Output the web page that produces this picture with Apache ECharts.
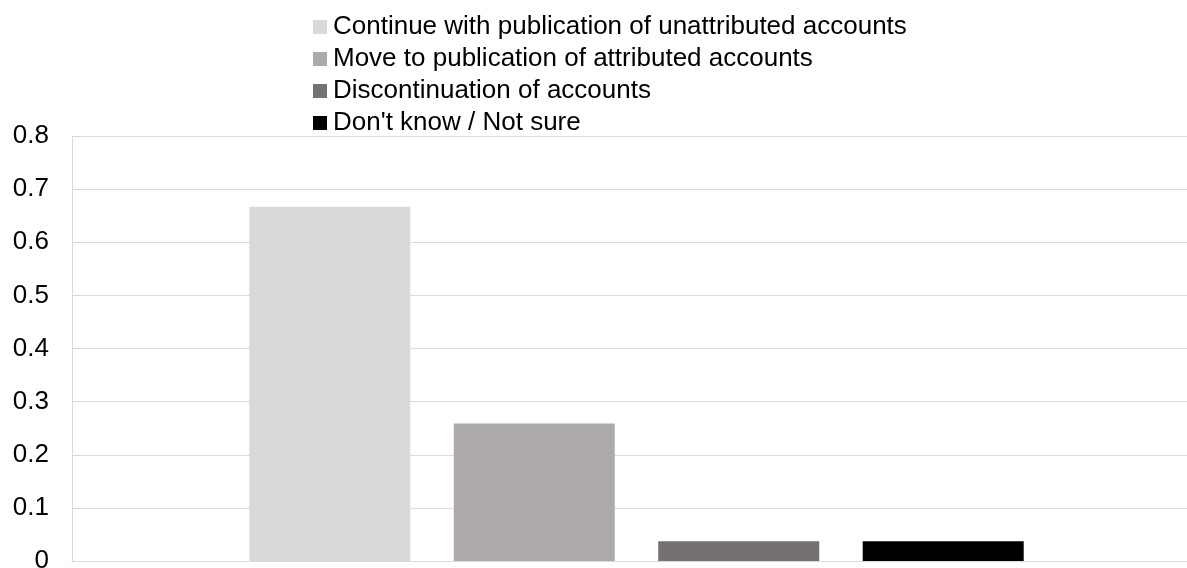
<!DOCTYPE html>
<html>
<head>
<meta charset="utf-8">
<script src="https://cdn.jsdelivr.net/npm/echarts@6/dist/echarts.min.js"></script>
<style>
  html, body { margin: 0; padding: 0; background: #ffffff; }
  #main { width: 1187px; height: 568px; }
</style>
</head>
<body>
<div id="main"></div>
<script>
var categories = [''];
var seriesNames = [
    'Continue with publication of unattributed accounts',
    'Move to publication of attributed accounts',
    'Discontinuation of accounts',
    "Don't know / Not sure"
];
var seriesValues = [
    [0.667],
    [0.259],
    [0.037],
    [0.037]
];
var seriesColors = ['#d9d9d9', '#aeaaaa', '#767171', '#000000'];
var yTicks = { min: 0, max: 0.8, interval: 0.1 };

var myChart = echarts.init(document.getElementById('main'));

var series = seriesNames.map(function (name, i) {
    return {
        name: name,
        type: 'bar',
        data: seriesValues[i],
        barWidth: 161,
        barGap: '27%',
        itemStyle: { color: seriesColors[i] }
    };
});

myChart.setOption({
    backgroundColor: '#ffffff',
    animation: false,
    textStyle: { fontFamily: 'Liberation Sans, Arial, sans-serif' },
    legend: {
        orient: 'vertical',
        left: 313,
        top: 14,
        padding: 0,
        itemWidth: 14,
        itemHeight: 14,
        itemGap: 6,
        icon: 'rect',
        textStyle: { fontSize: 26, color: '#000000', lineHeight: 26, padding: [0, 0, 0, 1] },
        data: seriesNames
    },
    grid: {
        left: 72,
        right: -14,
        top: 136,
        bottom: 7,
        outerBoundsMode: 'none'
    },
    xAxis: {
        type: 'category',
        data: categories,
        axisTick: { show: false },
        axisLabel: { show: false },
        axisLine: { lineStyle: { color: '#d9d9d9', width: 1 } }
    },
    yAxis: {
        type: 'value',
        min: yTicks.min,
        max: yTicks.max,
        interval: yTicks.interval,
        axisLine: { show: true, lineStyle: { color: '#d9d9d9' } },
        axisTick: { show: false },
        axisLabel: {
            fontSize: 26,
            color: '#000000',
            margin: 23,
            formatter: function (v) { return String(Math.round(v * 10) / 10); }
        },
        splitLine: { lineStyle: { color: '#d9d9d9', width: 1 } }
    },
    series: series
});
</script>
</body>
</html>
